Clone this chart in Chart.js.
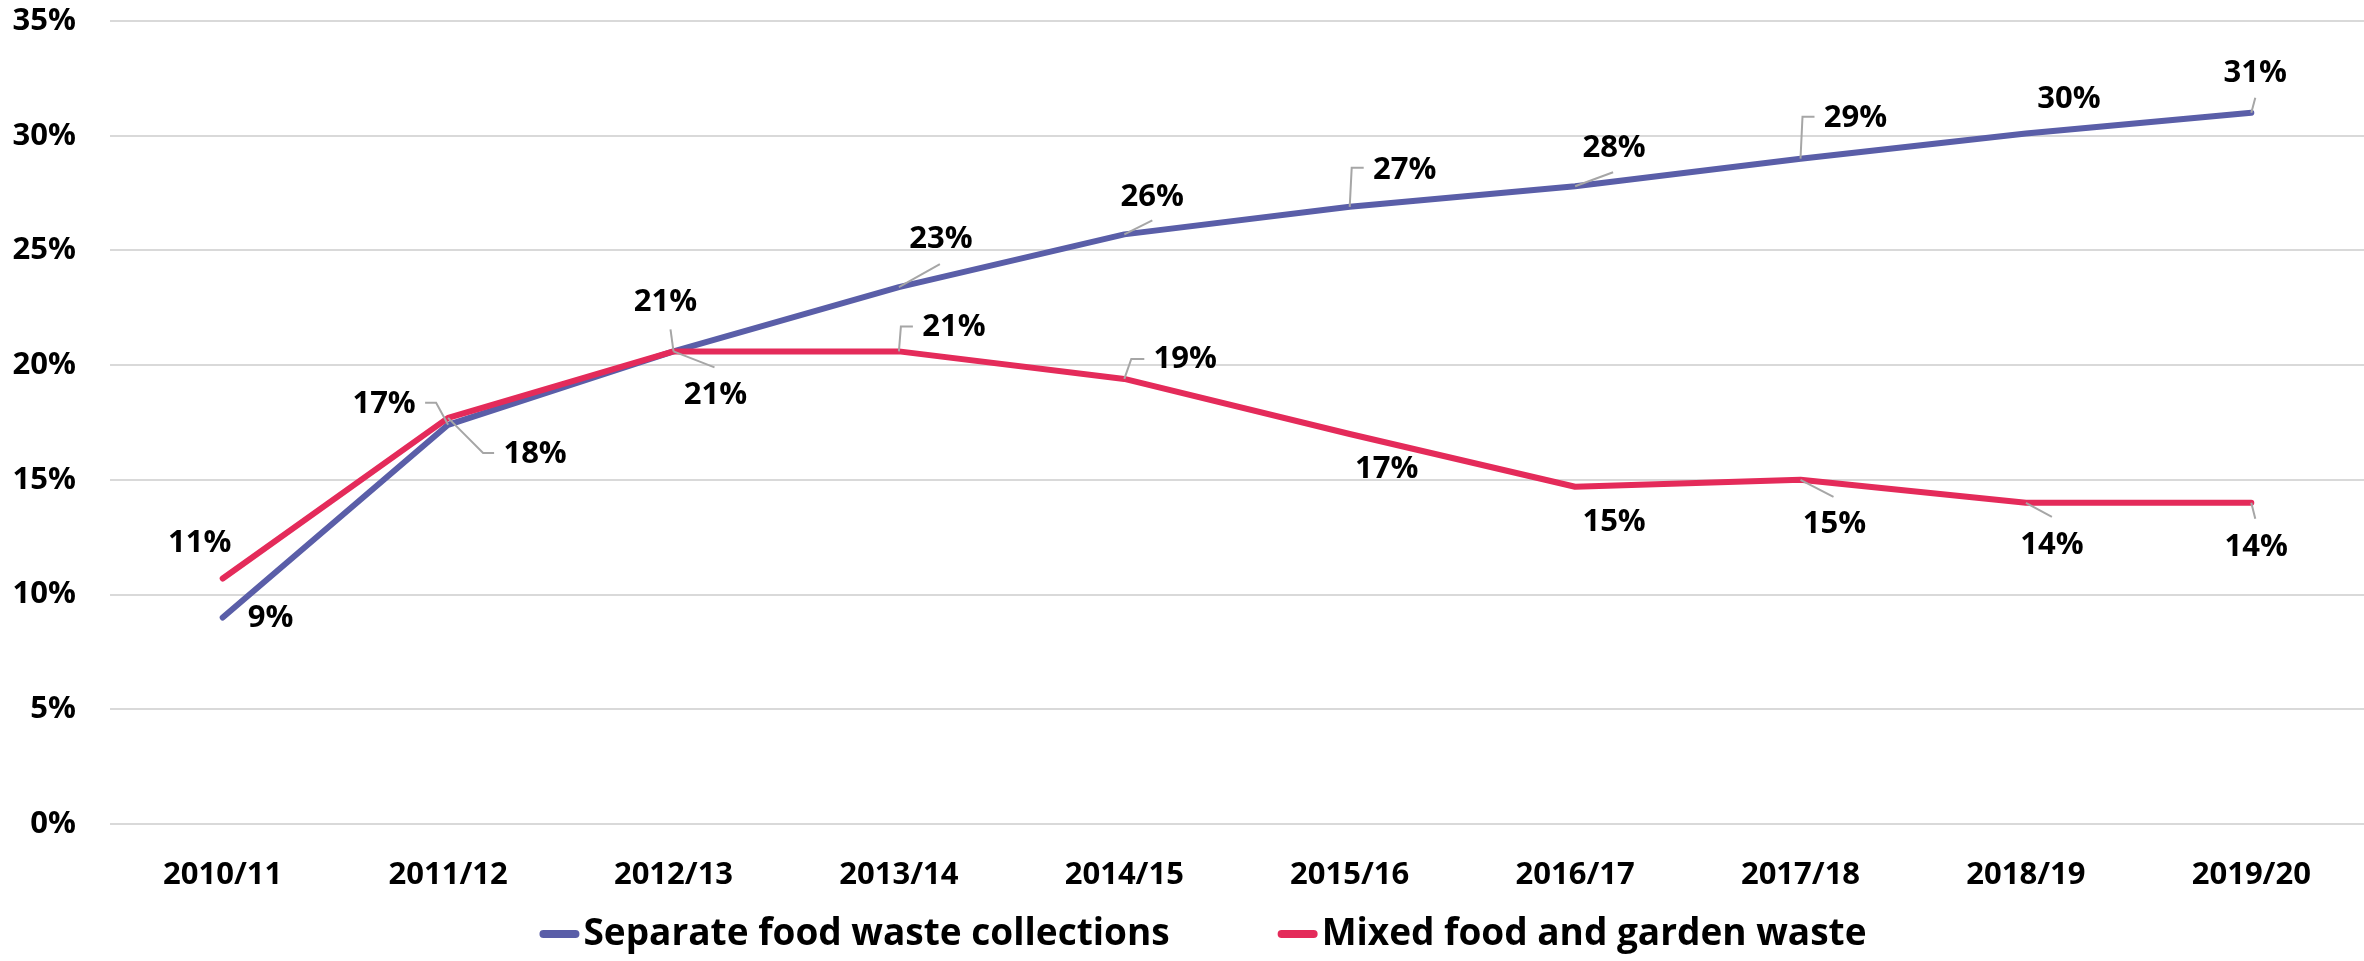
<!DOCTYPE html>
<html>
<head>
<meta charset="utf-8">
<script src="https://cdn.jsdelivr.net/npm/chart.js@4.4.1/dist/chart.umd.min.js"></script>
<style>
  html, body { margin: 0; padding: 0; background: #fff; }
  #wrap { width: 2364px; height: 961px; }
</style>
</head>
<body>
<div id="wrap"><canvas id="chart"></canvas></div>
<script>
const years = ["2010/11", "2011/12", "2012/13", "2013/14", "2014/15", "2015/16", "2016/17", "2017/18", "2018/19", "2019/20"];
const separateFood = [9.0, 17.4, 20.6, 23.4, 25.7, 26.9, 27.8, 29.0, 30.1, 31.0];
const mixedFoodGarden = [10.7, 17.7, 20.6, 20.6, 19.4, 17.0, 14.7, 15.0, 14.0, 14.0];
const yTicks = [0, 5, 10, 15, 20, 25, 30, 35];

// label placement (offset from the point) and leader lines, Excel style
const separateLabelPos = [[48, 1], [-64, -21], [-8, -49], [42, -48], [28, -37], [55, -37], [39, -38], [55, -40], [43, -34], [4, -40]];
const separateLeaders = [null, [[0, 0], [-12, -22], [-23, -22]], [[0, 0], [-3, -22]], [[0, 0], [41, -23]], [[0, 0], [28, -14]],
  [[0, 0], [2, -39], [14, -39]], [[0, 0], [38, -14]], [[0, 0], [2, -42], [14, -42]], null, [[0, 0], [4, -15]]];
const mixedLabelPos = [[-23, -35], [87, 36], [42, 44], [55, -24], [61, -20], [37, 35], [39, 35], [34, 44], [26, 42], [5, 44]];
const mixedLeaders = [null, [[0, 0], [35, 35], [46, 35]], [[0, 0], [41, 16]], [[0, 0], [2, -25], [14, -25]], [[0, 0], [7, -20], [20, -20]],
  null, null, [[0, 0], [33, 17]], [[0, 0], [26, 14]], [[0, 0], [4, 16]]];

const labelPos = [separateLabelPos, mixedLabelPos];
const leaders = [separateLeaders, mixedLeaders];

Chart.defaults.font.family = '"Open Sans", "DejaVu Sans", sans-serif';
Chart.defaults.font.weight = 'bold';
Chart.defaults.color = '#000';

const pointLabels = {
  id: 'pointLabels',
  afterDatasetsDraw(chart) {
    const ctx = chart.ctx;
    ctx.save();
    chart.data.datasets.forEach((ds, di) => {
      const meta = chart.getDatasetMeta(di);
      meta.data.forEach((pt, i) => {
        const lead = leaders[di][i];
        if (lead) {
          ctx.strokeStyle = '#a6a6a6';
          ctx.lineWidth = 2;
          ctx.beginPath();
          lead.forEach((p, k) => {
            if (k === 0) ctx.moveTo(pt.x + p[0], pt.y + p[1]);
            else ctx.lineTo(pt.x + p[0], pt.y + p[1]);
          });
          ctx.stroke();
        }
        const off = labelPos[di][i];
        ctx.fillStyle = '#000';
        ctx.font = 'bold 31px "Open Sans"';
        ctx.textAlign = 'center';
        ctx.textBaseline = 'middle';
        ctx.fillText(Math.round(ds.data[i]) + '%', pt.x + off[0], pt.y + off[1]);
      });
    });
    ctx.restore();
  }
};

const bottomLegend = {
  id: 'bottomLegend',
  afterDraw(chart) {
    const ctx = chart.ctx;
    ctx.save();
    ctx.font = 'bold 37px "Open Sans"';
    const mark = 40, gap = 4, space = 108;
    const items = chart.data.datasets.map(ds => ({ text: ds.label, color: ds.borderColor, w: ctx.measureText(ds.label).width }));
    const total = items.reduce((s, it) => s + mark + gap + it.w, 0) + space * (items.length - 1);
    let x = chart.width / 2 - total / 2 + 21;
    const y = 934;
    items.forEach(it => {
      ctx.strokeStyle = it.color;
      ctx.lineWidth = 8;
      ctx.lineCap = 'round';
      ctx.beginPath();
      ctx.moveTo(x + 4, y);
      ctx.lineTo(x + mark - 4, y);
      ctx.stroke();
      ctx.fillStyle = '#000';
      ctx.textAlign = 'left';
      ctx.textBaseline = 'middle';
      ctx.fillText(it.text, x + mark + gap, y);
      x += mark + gap + it.w + space;
    });
    ctx.restore();
  }
};

new Chart(document.getElementById('chart'), {
  type: 'line',
  data: {
    labels: years,
    datasets: [
      {
        label: 'Separate food waste collections',
        data: separateFood,
        borderColor: '#5a5ea8',
        borderWidth: 6,
        borderCapStyle: 'round',
        borderJoinStyle: 'round',
        pointRadius: 0,
        tension: 0,
        order: 1
      },
      {
        label: 'Mixed food and garden waste',
        data: mixedFoodGarden,
        borderColor: '#e42b5a',
        borderWidth: 6,
        borderCapStyle: 'round',
        borderJoinStyle: 'round',
        pointRadius: 0,
        tension: 0,
        order: 0
      }
    ]
  },
  options: {
    responsive: true,
    maintainAspectRatio: false,
    animation: false,
    layout: { padding: { top: 21, right: 0, bottom: 0, left: 0 } },
    plugins: {
      legend: { display: false },
      tooltip: { enabled: false }
    },
    scales: {
      x: {
        offset: true,
        grid: { display: false },
        border: { display: false },
        ticks: { font: { size: 31, weight: 'bold' }, color: '#000', padding: 25, maxRotation: 0 },
        afterFit(s) { s.height = 137; }
      },
      y: {
        min: 0,
        max: 35,
        grid: { color: '#d9d9d9', lineWidth: 2, drawTicks: false },
        border: { display: false },
        afterBuildTicks(s) { s.ticks = yTicks.map(v => ({ value: v })); },
        ticks: { font: { size: 31, weight: 'bold' }, color: '#000', padding: 34, callback: v => v + '%' },
        afterFit(s) { s.width = 110; s.paddingTop = 0; s.paddingBottom = 0; }
      }
    }
  },
  plugins: [pointLabels, bottomLegend]
});
</script>
</body>
</html>
